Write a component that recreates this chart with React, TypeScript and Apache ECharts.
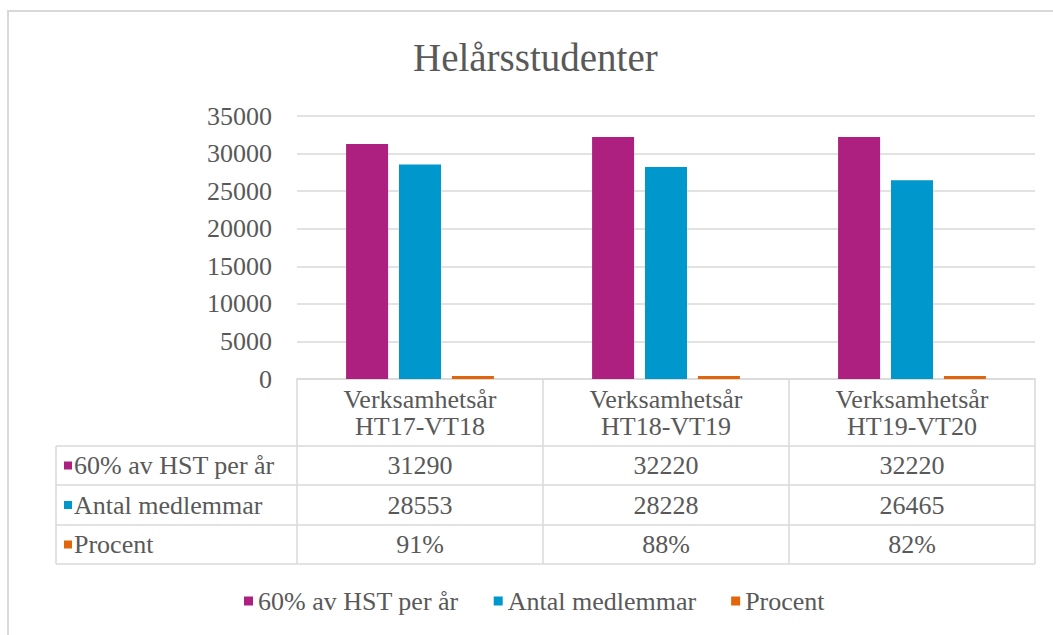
import React, { useEffect, useRef } from "react";
import * as echarts from "echarts";

const categories = ["Verksamhetsår\nHT17-VT18", "Verksamhetsår\nHT18-VT19", "Verksamhetsår\nHT19-VT20"];
const seriesNames = ["60% av HST per år", "Antal medlemmar", "Procent"];
const hstValues = [31290, 32220, 32220];
const memberValues = [28553, 28228, 26465];
const percentValues = [0.91, 0.88, 0.82];
const yMin = 0;
const yMax = 35000;
const yInterval = 5000;

const colors = ["#AD2080", "#0097CC", "#E0650B"];
const FONT = "Liberation Serif";
const TEXT = "#595959";
const LINE = "#d9d9d9";

const GRID_LEFT = 297;
const GRID_RIGHT_X = 1035;
const GRID_TOP = 116;
const GRID_BOTTOM_Y = 379;
const TABLE_LEFT = 56;
const ROW_LINES = [446, 485, 525, 564];

function fmt(seriesIdx: number, v: number): string {
  if (seriesIdx === 2) return Math.round(v * 100) + "%";
  return String(v);
}

export default function App() {
  const ref = useRef<HTMLDivElement>(null);
  useEffect(() => {
    if (!ref.current) return;
    const chart = echarts.init(ref.current, undefined, { renderer: "svg" });
    const seriesData = [hstValues, memberValues, percentValues];
    const txt = { fontFamily: FONT, fontSize: 26, fontWeight: "normal", fontStyle: "normal", color: TEXT };
    chart.setOption({
      animation: false,
      backgroundColor: "#ffffff",
      color: colors,
      textStyle: { fontFamily: FONT, fontWeight: "normal", color: TEXT },
      title: {
        text: "Helårsstudenter",
        left: 408,
        top: 33,
        textStyle: { fontFamily: FONT, fontSize: 39, fontWeight: "normal", color: TEXT },
      },
      legend: {
        data: seriesNames,
        left: 239,
        top: 583,
        icon: "rect",
        itemWidth: 9,
        itemHeight: 9,
        itemGap: 35,
        textStyle: { ...txt },
      },
      grid: {
        left: GRID_LEFT,
        right: 1053 - GRID_RIGHT_X,
        top: GRID_TOP,
        height: GRID_BOTTOM_Y - GRID_TOP,
        containLabel: false,
      },
      xAxis: {
        type: "category",
        data: categories,
        axisLine: { lineStyle: { color: LINE, width: 1.5 } },
        axisTick: { show: true, length: ROW_LINES[3] - GRID_BOTTOM_Y, lineStyle: { color: LINE, width: 1.5 } },
        axisLabel: {
          ...txt,
          interval: 0,
          margin: 7,
          lineHeight: 27,
        },
      },
      yAxis: {
        type: "value",
        min: yMin,
        max: yMax,
        interval: yInterval,
        axisLine: { show: false },
        axisTick: { show: false },
        axisLabel: { ...txt, margin: 25, formatter: (v: number) => String(v) },
        splitLine: { lineStyle: { color: LINE, width: 1.5 } },
      },
      series: seriesNames.map((name, i) => ({
        name,
        type: "bar",
        data: seriesData[i],
        barWidth: 42,
        barGap: "26%",
        barMinHeight: i === 2 ? 3 : 0,
        itemStyle: { color: colors[i] },
      })),
    });

    const centers = categories.map((c, i) => chart.convertToPixel({ xAxisIndex: 0 }, i) as number);
    const graphics: any[] = [];
    graphics.push({
      type: "rect",
      silent: true,
      shape: { x: 8, y: 11, width: 1100, height: 700 },
      style: { fill: "none", stroke: LINE, lineWidth: 2 },
    });
    ROW_LINES.forEach((y) => {
      graphics.push({
        type: "line",
        silent: true,
        shape: { x1: TABLE_LEFT, y1: y, x2: GRID_RIGHT_X, y2: y },
        style: { stroke: LINE, lineWidth: 1.5 },
      });
    });
    graphics.push({
      type: "line",
      silent: true,
      shape: { x1: TABLE_LEFT, y1: ROW_LINES[0], x2: TABLE_LEFT, y2: ROW_LINES[3] },
      style: { stroke: LINE, lineWidth: 1.5 },
    });
    const gText = (text: string, x: number, y: number, align: string) => ({
      type: "text",
      silent: true,
      x,
      y,
      style: {
        text,
        fontFamily: FONT,
        fontSize: 26,
        fontWeight: "normal",
        fontStyle: "normal",
        fill: TEXT,
        align,
        verticalAlign: "middle",
      },
    });
    seriesNames.forEach((name, r) => {
      const cy = (ROW_LINES[r] + ROW_LINES[r + 1]) / 2;
      graphics.push({
        type: "rect",
        silent: true,
        shape: { x: 64, y: cy - 4, width: 8, height: 8 },
        style: { fill: colors[r] },
      });
      graphics.push(gText(name, 74, cy, "left"));
      seriesData[r].forEach((v, c) => {
        graphics.push(gText(fmt(r, v), centers[c], cy, "center"));
      });
    });
    chart.setOption({ graphic: graphics });

    return () => chart.dispose();
  }, []);
  return (
    <div
      ref={ref}
      style={{ position: "absolute", left: 0, top: 0, width: 1053, height: 635 }}
    />
  );
}
